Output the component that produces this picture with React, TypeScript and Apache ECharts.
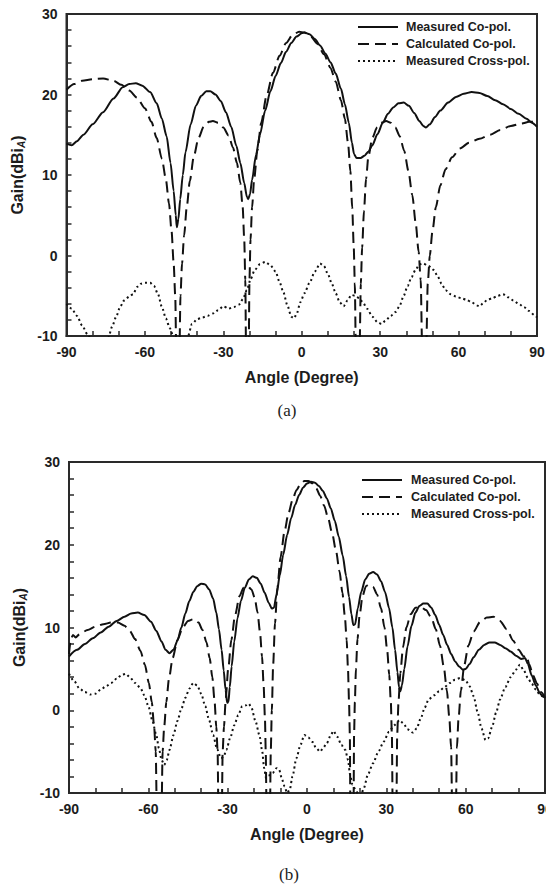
import React, { useEffect, useRef } from "react";
import * as echarts from "echarts";

// ---------- Data (angle in degrees, gain in dBi_A) ----------
const seriesNames = ["Measured Co-pol.", "Calculated Co-pol.", "Measured Cross-pol."];
const xTicks = [-90, -60, -30, 0, 30, 60, 90];
const yTicks = [-10, 0, 10, 20, 30];
const captions = ["(a)", "(b)"];

// Chart (a)
const measuredCoA: number[][] = [
  [-90, 13.9], [-88, 13.7], [-86, 14.2], [-83.5, 15.0], [-80, 16.3], [-76, 17.8], [-72, 19.5], [-68.5, 20.9],
  [-66, 21.3], [-63.5, 21.4], [-61, 21.1], [-58, 20.3], [-55.5, 18.9], [-53.5, 17.0], [-51.7, 14.8], [-50.2, 11.5],
  [-49, 8.0], [-48.2, 5.0], [-47.8, 3.5], [-47.2, 4.5], [-46.5, 7.0], [-45.5, 10.0], [-44.5, 12.8], [-42.5, 16.3],
  [-40.5, 18.6], [-38.5, 19.8], [-36.5, 20.4], [-35, 20.4], [-33, 20.0], [-31, 19.2], [-29, 17.8], [-27, 16.0],
  [-25, 13.6], [-23.5, 11.5], [-22, 9.0], [-21, 7.3], [-20.5, 7.0], [-19.8, 7.6], [-19, 9.4], [-17.5, 12.5],
  [-16, 15.0], [-14, 18.0], [-12, 20.4], [-10, 22.3], [-8, 23.9], [-6, 25.3], [-4, 26.4], [-2, 27.2], [0, 27.6],
  [1, 27.7], [3, 27.5], [5, 26.9], [7, 26.1], [9, 25.1], [11, 24.0], [13, 22.6], [15, 20.7], [16.5, 18.8],
  [18, 16.5], [19.2, 14.0], [20, 12.6], [21, 12.1], [22.5, 12.1], [24, 12.4], [25.5, 12.9], [27, 13.7], [29, 15.1],
  [31, 16.5], [33, 17.6], [35, 18.4], [37, 18.9], [39, 19.0], [41, 18.6], [43, 17.7], [45, 16.7], [46.5, 16.1],
  [47.5, 15.9], [49, 16.3], [51, 17.2], [53, 18.0], [56, 19.0], [59, 19.7], [62, 20.1], [65, 20.3], [68, 20.2],
  [71, 19.8], [74, 19.3], [77, 18.8], [80, 18.2], [83, 17.6], [86, 17.0], [88, 16.5], [90, 16.0],
];
const calculatedCoA: number[][] = [
  [-90, 20.6], [-87, 21.3], [-84, 21.7], [-80, 21.9], [-76, 22.0], [-72, 21.7], [-69, 21.2], [-66, 20.5],
  [-63, 19.6], [-60, 18.3], [-57.5, 16.6], [-55.5, 14.6], [-53.5, 12.0], [-52, 9.5], [-50.8, 6.5], [-49.8, 3.0],
  [-49, -1.0], [-48.4, -5.0], [-48, -12], [-46.8, -12], [-46.4, -5.0], [-45.8, -1.0], [-45, 2.5], [-44, 6.0],
  [-42.8, 9.3], [-41.3, 12.3], [-39.5, 14.6], [-37.5, 16.0], [-35.5, 16.6], [-34, 16.7], [-32, 16.5], [-30, 15.9],
  [-28, 14.9], [-26.3, 13.4], [-24.8, 11.5], [-23.5, 9.0], [-22.6, 6.0], [-22, 2.0], [-21.6, -3.0], [-21.3, -12],
  [-20.3, -12], [-20, -3.0], [-19.6, 2.0], [-19, 6.0], [-18.2, 9.5], [-17, 13.0], [-15.5, 16.5], [-13.5, 19.8],
  [-11, 22.7], [-8.5, 24.8], [-6, 26.4], [-3.5, 27.4], [-1, 27.8], [1, 27.7], [3.5, 27.2], [6, 26.3], [8.5, 25.0],
  [11, 23.3], [13, 21.6], [15, 19.3], [16.5, 17.0], [17.7, 14.0], [18.6, 10.5], [19.3, 6.0], [19.9, 1.0],
  [20.3, -3.5], [20.7, -12], [22.1, -12], [22.6, -3.5], [23.1, 1.0], [23.8, 5.5], [24.6, 9.5], [25.5, 12.3],
  [27, 14.6], [28.8, 15.9], [30.5, 16.5], [32.3, 16.7], [34, 16.5], [35.8, 15.9], [37.5, 14.8], [39.2, 13.0],
  [40.8, 10.5], [42.3, 7.5], [43.6, 4.0], [44.7, 0.5], [45.5, -3.0], [46.1, -12], [47.6, -12], [48.2, -3.5],
  [49, 0], [50, 3.0], [51.3, 6.0], [53, 8.7], [55, 10.7], [57.5, 12.2], [60.5, 13.3], [64, 14.0], [68, 14.5],
  [72, 15.0], [76, 15.6], [80, 16.1], [84, 16.4], [87, 16.6], [90, 16.6],
];
const crossA: number[][] = [
  [-90, -6.0], [-88, -6.6], [-86, -7.5], [-84, -8.7], [-82, -9.8], [-80, -10.8], [-78, -11.5], [-75.5, -11],
  [-74, -10.2], [-72.5, -8.8], [-71, -7.6], [-69.5, -6.4], [-68, -5.6], [-66, -5.1], [-64.5, -4.8], [-63, -3.9],
  [-61.5, -3.5], [-60, -3.4], [-58, -3.4], [-56.5, -3.8], [-55, -4.8], [-53.5, -6.4], [-52, -7.8], [-50.5, -9.0],
  [-49, -10.2], [-47.5, -11], [-45, -11], [-43.5, -10], [-42, -8.5], [-40, -7.9], [-38, -7.7], [-36, -7.5],
  [-34, -7.2], [-32, -6.8], [-30, -6.3], [-28, -6.6], [-26, -6.4], [-24, -6.1], [-22.5, -5.4], [-21, -4.3],
  [-19.5, -2.9], [-18, -1.8], [-16, -1.1], [-14, -0.8], [-12, -1.2], [-10, -2.0], [-8.5, -3.3], [-7, -4.6],
  [-5.5, -6.2], [-4, -7.6], [-3, -7.8], [-2, -7.3], [-0.5, -5.8], [1, -4.7], [3, -3.4], [5, -2.0], [7, -1.0],
  [8.5, -1.3], [10, -2.3], [11.5, -3.5], [13, -4.7], [14.5, -5.8], [16, -6.3], [17.5, -5.6], [19, -4.9],
  [20.5, -5.0], [22, -5.3], [23.5, -5.9], [25, -6.6], [27, -7.6], [29, -8.3], [30.5, -8.5], [32, -8.1],
  [34, -7.5], [36, -7.0], [37.5, -6.2], [39, -5.0], [40.5, -3.8], [42, -2.7], [43.5, -1.8], [45, -1.1],
  [46.5, -1.0], [48.5, -1.3], [50.5, -1.8], [52, -2.6], [53.5, -3.5], [55, -4.3], [57, -4.8], [59, -5.1],
  [61, -5.3], [63, -5.5], [65, -5.8], [67, -6.2], [68, -6.3], [69.5, -5.9], [71, -5.5], [73, -5.3], [75, -5.0],
  [77, -4.8], [79, -5.2], [81, -5.6], [83, -6.0], [85, -6.4], [87, -6.9], [89, -7.4], [90, -7.7],
];

// Chart (b)
const measuredCoB: number[][] = [
  [-90, 6.5], [-87, 7.3], [-84, 8.0], [-81, 8.7], [-78, 9.4], [-75, 10.1], [-72, 10.8], [-69, 11.3],
  [-66.5, 11.7], [-64, 11.8], [-61.5, 11.5], [-59, 10.7], [-57, 9.6], [-55, 8.3], [-53.5, 7.3], [-52, 6.9],
  [-50.5, 7.3], [-49, 8.4], [-47.5, 10.0], [-46, 11.7], [-44.5, 13.2], [-43, 14.3], [-41.5, 15.0], [-40, 15.3],
  [-38.5, 15.2], [-37, 14.6], [-35.5, 13.5], [-34.3, 11.8], [-33.3, 9.8], [-32.3, 7.3], [-31.5, 4.8],
  [-30.8, 2.5], [-30.2, 0.9], [-29.7, 1.0], [-29.2, 2.8], [-28.5, 5.3], [-27.5, 8.3], [-26.3, 11.1], [-25, 13.2],
  [-23.5, 14.8], [-22, 15.8], [-20.5, 16.2], [-19, 16.0], [-17.5, 15.3], [-16, 14.2], [-14.5, 13.0],
  [-13.3, 12.3], [-12.5, 12.4], [-11.5, 14.0], [-10.3, 16.3], [-9, 18.8], [-7.5, 21.2], [-6, 23.2],
  [-4.5, 24.8], [-3, 26.0], [-1.5, 26.9], [0, 27.4], [1.5, 27.6], [3, 27.5], [4.5, 27.1], [6, 26.5],
  [7.5, 25.6], [9, 24.4], [10.5, 22.9], [12, 21.0], [13.5, 18.7], [14.8, 16.2], [15.9, 13.7], [16.8, 11.6],
  [17.5, 10.3], [18.2, 10.4], [19.2, 12.3], [20.5, 14.3], [22, 15.8], [23.5, 16.5], [25, 16.7], [26.5, 16.4],
  [28, 15.6], [29.5, 14.3], [31, 12.4], [32.3, 10.0], [33.3, 7.3], [34.2, 4.6], [34.8, 2.8], [35.3, 2.3],
  [35.9, 3.0], [36.8, 5.0], [38, 7.7], [39.5, 10.2], [41, 11.8], [42.5, 12.6], [44, 12.9], [45.5, 12.9],
  [47, 12.4], [48.5, 11.5], [50, 10.3], [51.5, 9.1], [53, 7.9], [54.5, 6.8], [56, 5.9], [57.5, 5.3], [59, 4.9],
  [60, 5.0], [61.5, 5.6], [63, 6.4], [65, 7.3], [67, 7.9], [69, 8.2], [71, 8.2], [73, 7.9], [75, 7.5],
  [77, 7.1], [79, 6.6], [81, 6.2], [82.5, 6.3], [83.5, 5.6], [85, 4.2], [86.5, 3.0], [88, 2.1], [89, 1.7], [90, 1.5],
];
const calculatedCoB: number[][] = [
  [-90, 6.8], [-89.3, 8.6], [-88.5, 9.1], [-87.5, 8.8], [-86, 9.2], [-83, 9.7], [-80, 10.1], [-77, 10.4],
  [-74, 10.6], [-71.5, 10.6], [-69, 10.2], [-67, 9.6], [-65, 8.6], [-63, 7.2], [-61.3, 5.5], [-59.8, 3.3],
  [-58.7, 1.0], [-57.8, -2.0], [-57.2, -5.0], [-56.8, -12], [-55.0, -12], [-54.6, -5.0], [-54, -2.0],
  [-53.2, 1.0], [-52.2, 3.8], [-50.8, 6.3], [-49, 8.5], [-47, 10.0], [-45, 10.8], [-43, 11.0], [-41, 10.6],
  [-39.5, 9.7], [-38, 8.2], [-36.8, 6.3], [-35.8, 4.0], [-35, 1.3], [-34.3, -2.0], [-33.8, -5.0], [-33.5, -12],
  [-32.2, -12], [-31.9, -5.0], [-31.4, -2.0], [-30.7, 1.5], [-29.8, 5.0], [-28.6, 8.5], [-27.2, 11.5],
  [-25.5, 13.8], [-24, 14.8], [-22.5, 15.0], [-21, 14.6], [-19.8, 13.6], [-18.7, 11.8], [-17.8, 9.5],
  [-17, 6.5], [-16.4, 3.0], [-15.9, -1.0], [-15.6, -5.0], [-15.3, -12], [-14, -12], [-13.7, -5.0], [-13.3, 0],
  [-12.8, 5.5], [-12.1, 10.5], [-11.2, 14.8], [-10, 18.5], [-8.5, 21.6], [-7, 23.8], [-5.5, 25.4], [-4, 26.6],
  [-2.5, 27.3], [-1, 27.7], [0.5, 27.7], [2, 27.4], [3.5, 26.8], [5, 25.9], [6.5, 24.7], [8, 23.2], [9.5, 21.4],
  [11, 19.2], [12.3, 16.8], [13.4, 14.2], [14.3, 11.4], [15, 8.5], [15.5, 5.0], [15.9, 1.0], [16.2, -3.0],
  [16.4, -12], [17.6, -12], [17.8, -3.0], [18.1, 1.0], [18.5, 5.0], [19.1, 8.6], [19.9, 11.5], [21, 13.8],
  [22.3, 15.0], [23.5, 15.2], [25, 14.9], [26.5, 14.0], [28, 12.3], [29.3, 10.0], [30.3, 7.3], [31.1, 4.3],
  [31.7, 1.0], [32.1, -3.0], [32.4, -12], [33.8, -12], [34.1, -3.0], [34.6, 1.0], [35.3, 4.5], [36.3, 7.6],
  [37.6, 10.0], [39.2, 11.6], [41, 12.4], [43, 12.5], [45, 12.1], [47, 11.2], [48.7, 9.8], [50.3, 7.8],
  [51.7, 5.3], [52.9, 2.4], [53.8, -0.8], [54.5, -4.5], [54.9, -12], [56.3, -12], [56.7, -4.5], [57.3, -1.0],
  [58.2, 2.4], [59.5, 5.5], [61, 7.8], [63, 9.5], [65.5, 10.7], [68, 11.2], [70.5, 11.3], [73, 10.8],
  [75.5, 9.8], [78, 8.4], [80, 7.3], [82, 6.5], [83, 6.6], [84, 5.6], [85.5, 4.2], [87, 3.2], [88.5, 2.2], [90, 1.5],
];
const crossB: number[][] = [
  [-90, 4.4], [-88, 3.5], [-86, 2.6], [-84, 2.2], [-82, 1.9], [-80, 2.0], [-78, 2.5], [-76, 2.9], [-74, 3.3],
  [-72, 3.8], [-70, 4.3], [-68.5, 4.4], [-67, 4.0], [-65, 3.3], [-63, 2.7], [-61.5, 1.8], [-60, 0.5],
  [-58.5, -1.2], [-57, -3.0], [-56, -4.6], [-55, -6.0], [-54, -6.6], [-53, -6.0], [-52, -4.8], [-50.5, -3.0],
  [-49, -1.3], [-47.5, 0.2], [-46, 1.5], [-44.5, 2.6], [-43, 3.3], [-41.5, 3.0], [-40, 2.0], [-38.5, 0.5],
  [-37, -1.2], [-35.5, -3.0], [-34, -4.7], [-32.5, -5.8], [-31.5, -5.6], [-30.5, -4.8], [-29, -3.3],
  [-27.5, -1.8], [-26, -0.6], [-24.5, 0.5], [-23, 0.6], [-22, 0.8], [-21, 0.3], [-19.5, -1.3], [-18, -3.0],
  [-17, -4.8], [-16.2, -7.0], [-15.5, -8.2], [-14.5, -7.9], [-13, -7.6], [-11.5, -7.0], [-10.5, -7.2],
  [-9.5, -8.3], [-8.5, -9.2], [-7.5, -10.0], [-6.5, -9.6], [-5.5, -8.0], [-4, -5.8], [-2.5, -4.2], [-1, -3.0],
  [0.5, -3.3], [2, -3.8], [3.5, -4.6], [5, -5.0], [6, -4.6], [7.5, -4.0], [9, -3.0], [10, -2.5], [11.5, -3.2],
  [13, -4.2], [14.5, -4.8], [15.5, -6.0], [16.3, -7.8], [17.2, -9.0], [18.5, -9.7], [19.5, -10.3],
  [20.5, -10.2], [21.5, -9.4], [23, -7.8], [25, -6.4], [27, -5.0], [29, -3.8], [31, -2.6], [33, -1.8],
  [35, -1.2], [36.5, -1.6], [38, -2.3], [40, -2.7], [41.5, -2.2], [43, -1.0], [44.5, 0.3], [46, 1.3], [48, 1.8],
  [50, 2.3], [52, 2.8], [54, 3.3], [56, 3.7], [58, 3.9], [60, 3.6], [61.5, 2.9], [63, 1.7], [64.5, -0.2],
  [66, -2.2], [67.5, -3.6], [68.5, -3.4], [70, -2.0], [71.5, -0.3], [73, 1.3], [75, 2.8], [77, 4.0], [79, 4.9],
  [80.5, 5.5], [82, 4.8], [83.5, 3.9], [85, 3.2], [86.5, 2.5], [88, 1.9], [90, 1.4],
];

// ---------- Styling ----------
const FONT = "'Liberation Sans', Arial, Helvetica, sans-serif";
const SERIF = "'Liberation Serif', 'Times New Roman', serif";
const INK = "#1c1c1c";
const FRAME = "#2a2a2a";

const panels = [
  { grid: { left: 66.5, top: 14, width: 470.5, height: 322 },
    legend: { lineX: 358, lineLen: 40, textX: 406, rowY: [27, 44, 61] },
    nameGapX: 33, nameGapY: 36, caption: { x: 287, y: 410 },
    data: [measuredCoA, calculatedCoA, crossA] },
  { grid: { left: 69, top: 462, width: 476, height: 331 },
    legend: { lineX: 362, lineLen: 40, textX: 411, rowY: [480, 497, 514] },
    nameGapX: 33, nameGapY: 38, caption: { x: 289, y: 874 },
    data: [measuredCoB, calculatedCoB, crossB] },
];

const dashes: (number[] | null)[] = [null, [11, 6], [2, 3]];

export default function App() {
  const ref = useRef<HTMLDivElement>(null);
  useEffect(() => {
    if (!ref.current) return;
    const chart = echarts.init(ref.current, null, { renderer: "svg" });
    const grids: any[] = [];
    const xAxes: any[] = [];
    const yAxes: any[] = [];
    const series: any[] = [];
    const graphics: any[] = [];
    panels.forEach((p, i) => {
      grids.push({
        ...p.grid, show: true, borderColor: FRAME, borderWidth: 2, backgroundColor: "transparent",
        containLabel: false, outerBoundsMode: "none",
      });
      xAxes.push({
        gridIndex: i, type: "value", min: xTicks[0], max: xTicks[xTicks.length - 1], interval: 30,
        name: "Angle (Degree)", nameLocation: "middle", nameGap: p.nameGapX,
        nameTextStyle: { fontFamily: FONT, fontWeight: "bold", fontSize: 16, color: INK },
        axisLine: { show: true, onZero: false, lineStyle: { color: FRAME, width: 2 } },
        axisTick: { show: true, inside: true, length: 5, lineStyle: { color: FRAME, width: 1.5 } },
        minorTick: { show: true, splitNumber: 3, length: 5, lineStyle: { color: FRAME, width: 1.5 } },
        splitLine: { show: false },
        axisLabel: { fontFamily: FONT, fontWeight: "bold", fontSize: 14, color: INK, margin: 9, hideOverlap: false },
      });
      yAxes.push({
        gridIndex: i, type: "value", min: yTicks[0], max: yTicks[yTicks.length - 1], interval: 10,
        name: "{m|Gain(dBi}{s|A}{m|)}", nameLocation: "middle", nameGap: p.nameGapY, nameRotate: 90,
        nameTextStyle: {
          rich: {
            m: { fontFamily: FONT, fontWeight: "bold", fontSize: 16, color: INK, lineHeight: 18 },
            s: { fontFamily: FONT, fontWeight: "bold", fontStyle: "italic", fontSize: 10, color: INK, lineHeight: 8, verticalAlign: "bottom" },
          },
        },
        axisLine: { show: true, onZero: false, lineStyle: { color: FRAME, width: 2 } },
        axisTick: { show: true, inside: true, length: 5, lineStyle: { color: FRAME, width: 1.5 } },
        minorTick: { show: true, splitNumber: 5, length: 5, lineStyle: { color: FRAME, width: 1.5 } },
        splitLine: { show: false },
        axisLabel: { fontFamily: FONT, fontWeight: "bold", fontSize: 14, color: INK, margin: 9 },
      });
      seriesNames.forEach((name, k) => {
        series.push({
          type: "line", name, xAxisIndex: i, yAxisIndex: i, data: p.data[k],
          showSymbol: false, symbol: "none", smooth: 0.25, smoothMonotone: "x", clip: true,
          lineStyle: { color: "#111", width: 2, type: dashes[k] ? dashes[k] : "solid" },
          itemStyle: { color: "#111" },
          z: 3 - k,
        });
        // legend row: line sample + label
        const L = p.legend;
        graphics.push({
          type: "line",
          shape: { x1: L.lineX, y1: L.rowY[k], x2: L.lineX + L.lineLen, y2: L.rowY[k] },
          style: { stroke: "#111", lineWidth: 2, lineDash: dashes[k] || undefined },
          silent: true,
        });
        graphics.push({
          type: "text", x: L.textX, y: L.rowY[k],
          style: { text: name, fontFamily: FONT, fontWeight: "bold", fontSize: 12.5, fill: INK, textVerticalAlign: "middle", textAlign: "left" },
          silent: true,
        });
      });
      graphics.push({
        type: "text", x: p.caption.x, y: p.caption.y,
        style: { text: captions[i], fontFamily: SERIF, fontSize: 17, fill: INK, textAlign: "center", textVerticalAlign: "middle" },
      });
    });
    chart.setOption({
      animation: false,
      backgroundColor: "#ffffff",
      grid: grids, xAxis: xAxes, yAxis: yAxes, series, graphic: graphics,
    });
    return () => chart.dispose();
  }, []);
  return (
    <div style={{ position: "absolute", left: 0, top: 0, width: 546, height: 888, overflow: "hidden", background: "#fff" }}>
      <div ref={ref} style={{ width: 546, height: 888 }} />
    </div>
  );
}
